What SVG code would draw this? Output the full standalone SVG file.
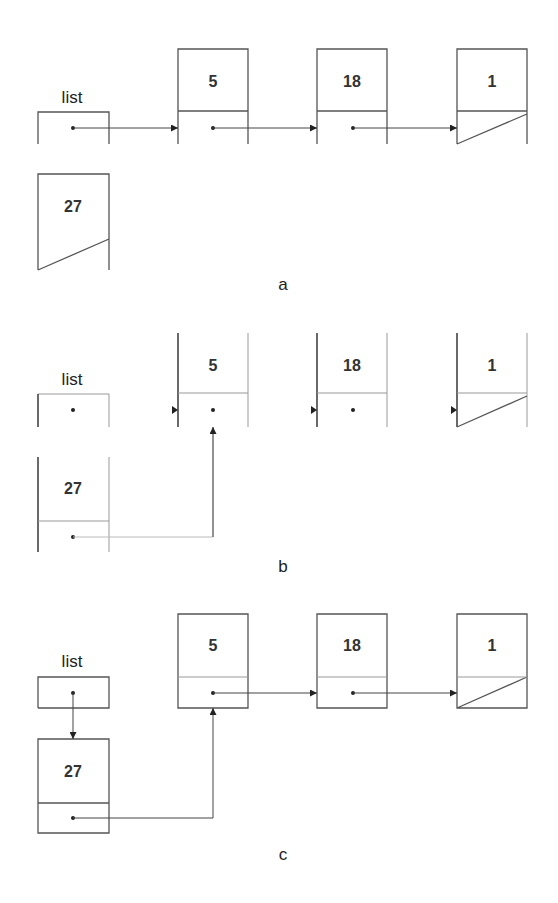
<svg xmlns="http://www.w3.org/2000/svg" width="558" height="903" viewBox="0 0 558 903">
<defs>
<style>
.box{fill:none;stroke:#555;stroke-width:1.3}
.lt{fill:none;stroke:#999;stroke-width:1}
.dk{fill:none;stroke:#444;stroke-width:1.6}
.ln{fill:none;stroke:#444;stroke-width:1}
.head{fill:#222;stroke:none}
.t{font-family:"Liberation Sans",Arial,sans-serif;font-size:17px;fill:#222;text-anchor:middle}
.v{font-family:"Liberation Sans",Arial,sans-serif;font-size:16px;font-weight:bold;fill:#333;text-anchor:middle}
.dot{fill:#222}
</style>
<marker id="ah" viewBox="0 0 8 8" refX="8" refY="4" markerWidth="7" markerHeight="7" markerUnits="userSpaceOnUse" orient="auto">
<path d="M0,0 L8,4 L0,8 z" fill="#222"/>
</marker>
</defs>
<rect width="558" height="903" fill="#fff"/>

<!-- Part a -->
<g id="a-list">
<text class="t" x="72" y="103">list</text>
<path class="box" d="M38,144 V112 H109 V144"/>
<circle class="dot" cx="73" cy="128" r="2"/>
</g>
<g id="a-n5">
<path class="box" d="M178,144 V49 H248 V144 M178,111 H248"/>
<text class="v" x="213" y="87">5</text>
<circle class="dot" cx="213" cy="128" r="2"/>
</g>
<g id="a-n18">
<path class="box" d="M317,144 V49 H387 V144 M317,111 H387"/>
<text class="v" x="352" y="87">18</text>
<circle class="dot" cx="353" cy="128" r="2"/>
</g>
<g id="a-n1">
<path class="box" d="M457,144 V49 H527 V144 M457,111 H527 M457,144 L527,114"/>
<text class="v" x="492" y="87">1</text>
</g>
<g id="a-n27">
<path class="box" d="M38,270 V174 H109 V270 M38,270 L109,239"/>
<text class="v" x="73" y="212">27</text>
</g>
<g id="a-connectors">
<line class="ln" x1="73" y1="128" x2="178" y2="128" marker-end="url(#ah)"/>
<line class="ln" x1="213" y1="128" x2="317" y2="128" marker-end="url(#ah)"/>
<line class="ln" x1="353" y1="128" x2="457" y2="128" marker-end="url(#ah)"/>
</g>
<text class="t" x="283" y="290">a</text>

<!-- Part b -->
<g id="b-list">
<text class="t" x="72" y="385">list</text>
<path class="lt" d="M38,394 H109"/>
<path class="dk" d="M38,394 V427"/>
<path class="lt" d="M109,394 V427"/>
<circle class="dot" cx="73" cy="410" r="2"/>
</g>
<g id="b-n5">
<path class="dk" d="M178,333 V427"/>
<path class="lt" d="M248,333 V427 M178,393 H248"/>
<text class="v" x="213" y="371">5</text>
<circle class="dot" cx="213" cy="410" r="2"/>
</g>
<g id="b-n18">
<path class="dk" d="M317,333 V427"/>
<path class="lt" d="M387,333 V427 M317,393 H387"/>
<text class="v" x="352" y="371">18</text>
<circle class="dot" cx="353" cy="410" r="2"/>
</g>
<g id="b-n1">
<path class="dk" d="M457,333 V427"/>
<path class="lt" d="M527,333 V427 M457,393 H527"/>
<path class="box" d="M457,427 L527,396"/>
<text class="v" x="492" y="371">1</text>
</g>
<g id="b-n27">
<path class="dk" d="M38,457 V552"/>
<path class="lt" d="M109,457 V552 M38,521 H109"/>
<text class="v" x="73" y="494">27</text>
<circle class="dot" cx="73" cy="537" r="2"/>
</g>
<g id="b-connectors">
<path class="head" d="M172,406 L178,410 L172,414 z"/>
<path class="head" d="M311,406 L317,410 L311,414 z"/>
<path class="head" d="M451,406 L457,410 L451,414 z"/>
<path class="lt" d="M73,537 H213" style="stroke:#bbb"/>
<path class="dk" d="M213,537 V427" marker-end="url(#ah)" style="stroke:#777"/>
</g>
<text class="t" x="283" y="572">b</text>

<!-- Part c -->
<g id="c-list">
<text class="t" x="72" y="667">list</text>
<path class="box" d="M38,708 V677 H109 V708 H38"/>
<circle class="dot" cx="73" cy="693" r="2"/>
</g>
<g id="c-n5">
<path class="box" d="M178,614 H248 V708 H178 z"/>
<path class="lt" d="M178,677 H248"/>
<text class="v" x="213" y="651">5</text>
<circle class="dot" cx="213" cy="693" r="2"/>
</g>
<g id="c-n18">
<path class="box" d="M317,614 H387 V708 H317 z"/>
<path class="lt" d="M317,677 H387"/>
<text class="v" x="352" y="651">18</text>
<circle class="dot" cx="353" cy="693" r="2"/>
</g>
<g id="c-n1">
<path class="box" d="M457,614 H527 V708 H457 z M457,708 L527,677"/>
<path class="lt" d="M457,677 H527"/>
<text class="v" x="492" y="651">1</text>
</g>
<g id="c-n27">
<path class="box" d="M38,739 H109 V833 H38 z M38,803 H109"/>
<text class="v" x="73" y="777">27</text>
<circle class="dot" cx="73" cy="818" r="2"/>
</g>
<g id="c-connectors">
<line class="ln" x1="73" y1="693" x2="73" y2="739" marker-end="url(#ah)"/>
<line class="ln" x1="213" y1="693" x2="317" y2="693" marker-end="url(#ah)"/>
<line class="ln" x1="353" y1="693" x2="457" y2="693" marker-end="url(#ah)"/>
<path class="ln" d="M73,818 H213 V708" marker-end="url(#ah)"/>
</g>
<text class="t" x="283" y="860">c</text>
</svg>
